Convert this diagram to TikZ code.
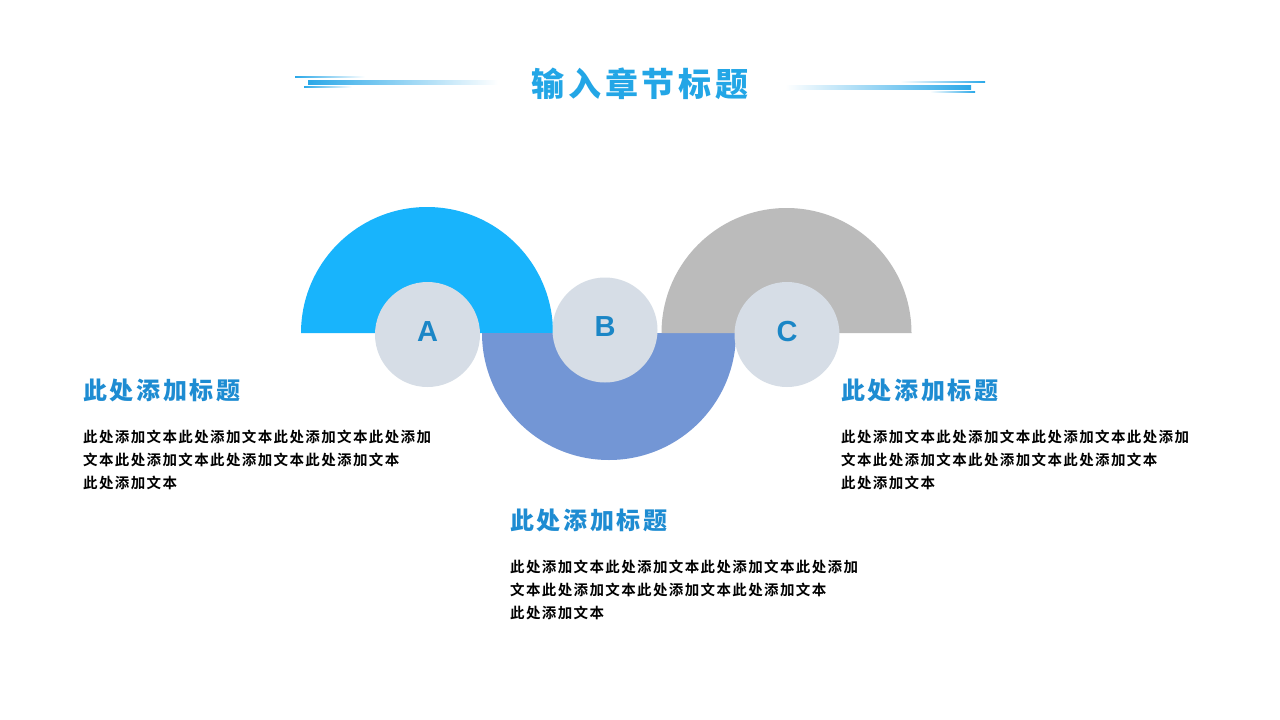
\documentclass[tikz,border=0pt]{standalone}
\usepackage{fontspec}
\newfontfamily\cjkhead{Noto Sans CJK SC}[UprightFont=* Black,LetterSpace=11]
\newfontfamily\cjktitle{Noto Sans CJK SC}[UprightFont=* Black,LetterSpace=11]
\newfontfamily\cjkbody{Noto Sans CJK SC}[UprightFont=* Bold,LetterSpace=9.5]
\newfontfamily\letterfont{Liberation Sans}
\definecolor{colA}{HTML}{18B4FC}
\definecolor{colB}{HTML}{7396D5}
\definecolor{colC}{HTML}{BBBBBB}
\definecolor{circ}{HTML}{D6DDE6}
\definecolor{lettc}{HTML}{1B86C6}
\definecolor{headc}{HTML}{1E8CD2}
\definecolor{titlec}{HTML}{23A6E6}
\definecolor{barc}{HTML}{2AA8E8}
\tikzset{
  disc/.style={circle,fill=circ,minimum size=105pt,inner sep=0pt,text=lettc,font=\letterfont\bfseries\fontsize{29}{29}\selectfont},
  headtxt/.style={anchor=west,inner sep=0pt,text=headc,font=\cjkhead\fontsize{24}{24}\selectfont},
  bodytxt/.style={anchor=west,inner sep=0pt,text=black,font=\cjkbody\fontsize{14.5}{14.5}\selectfont},
}
\begin{document}
\begin{tikzpicture}[x=1pt,y=-1pt]
\useasboundingbox (0,0) rectangle (1280,720);
\fill[white] (0,0) rectangle (1280,720);
% title decorations
\fill[left color=barc,right color=white] (308,80) rectangle (498,84);
\fill[left color=barc,right color=white] (295,76.5) rectangle (365,77.7);
\fill[left color=barc,right color=white] (304,86.4) rectangle (352,87.6);
\fill[left color=white,right color=barc] (785,85.5) rectangle (971,89.5);
\fill[left color=white,right color=barc] (900,81.4) rectangle (985,82.6);
\fill[left color=white,right color=barc] (930,91.4) rectangle (975,92.6);
\node[inner sep=0pt,text=titlec,font=\cjktitle\fontsize{33}{33}\selectfont] (title) at (640,84) {输入章节标题};
% half discs
\fill[colA] (301,333) arc[start angle=180,end angle=360,radius=126] -- cycle;
\fill[colB] (482,333) arc[start angle=180,end angle=0,radius=127] -- cycle;
\fill[colC] (661.5,333) arc[start angle=180,end angle=360,radius=125] -- cycle;
% circles
\node[disc] (cA) at (427.5,334.5) {\raisebox{6pt}{A}};
\node[disc] (cB) at (605,330) {\raisebox{7pt}{B}};
\node[disc] (cC) at (787,334.5) {\raisebox{6pt}{C}};
% left block
\node[headtxt] (hL) at (83,390) {此处添加标题};
\node[bodytxt] (bL1) at (83,437) {此处添加文本此处添加文本此处添加文本此处添加};
\node[bodytxt] (bL2) at (83,460) {文本此处添加文本此处添加文本此处添加文本};
\node[bodytxt] (bL3) at (83,483) {此处添加文本};
% right block
\node[headtxt] (hR) at (841,390) {此处添加标题};
\node[bodytxt] (bR1) at (841,437) {此处添加文本此处添加文本此处添加文本此处添加};
\node[bodytxt] (bR2) at (841,460) {文本此处添加文本此处添加文本此处添加文本};
\node[bodytxt] (bR3) at (841,483) {此处添加文本};
% middle block
\node[headtxt] (hM) at (510,520) {此处添加标题};
\node[bodytxt] (bM1) at (510,567) {此处添加文本此处添加文本此处添加文本此处添加};
\node[bodytxt] (bM2) at (510,590) {文本此处添加文本此处添加文本此处添加文本};
\node[bodytxt] (bM3) at (510,613) {此处添加文本};
\end{tikzpicture}
\end{document}
